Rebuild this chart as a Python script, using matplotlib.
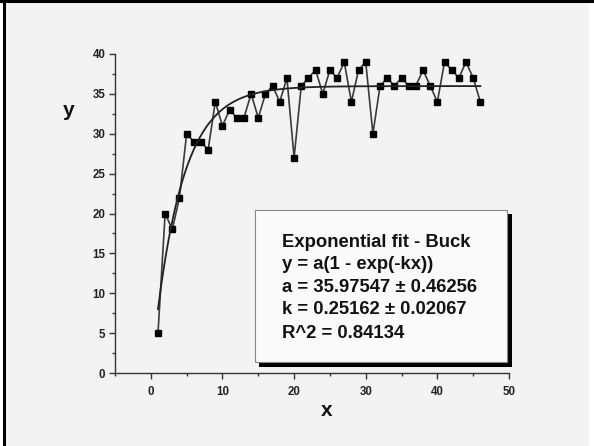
import numpy as np
import matplotlib
matplotlib.use("Agg")
import matplotlib.pyplot as plt
from matplotlib.patches import Rectangle
from matplotlib.lines import Line2D
from matplotlib.ticker import MultipleLocator

plt.rcParams['font.family'] = ['Liberation Sans', 'DejaVu Sans']
plt.rcParams['font.weight'] = 'bold'

x_values = list(range(1, 47))
y_values = [5, 20, 18, 22, 30, 29, 29, 28, 34, 31,
            33, 32, 32, 35, 32, 35, 36, 34, 37, 27,
            36, 37, 38, 35, 38, 37, 39, 34, 38, 39,
            30, 36, 37, 36, 37, 36, 36, 38, 36, 34,
            39, 38, 37, 39, 37, 34]
fit_a = 35.97547
fit_a_err = 0.46256
fit_k = 0.25162
fit_k_err = 0.02067
fit_r2 = 0.84134
x_ticks = [0, 10, 20, 30, 40, 50]
y_ticks = [0, 5, 10, 15, 20, 25, 30, 35, 40]

W, H = 594, 446
fig = plt.figure(figsize=(W / 100, H / 100), dpi=100)
fig.patch.set_facecolor('#f3f3f3')

def fx(px):
    return px / W

def fy(py):
    return 1 - py / H

# outer frame lines (top and left)
fig.add_artist(Rectangle((0, fy(H)), fx(3), 1, transform=fig.transFigure,
                         facecolor='white', edgecolor='none', zorder=0))
fig.add_artist(Rectangle((fx(589), fy(H)), fx(5), 1, transform=fig.transFigure,
                         facecolor='white', edgecolor='none', zorder=0))
fig.add_artist(Line2D([fx(4), fx(4)], [0, 1], transform=fig.transFigure,
                      color='black', lw=2.2))
fig.add_artist(Line2D([0, 1], [fy(1.2), fy(1.2)], transform=fig.transFigure,
                      color='black', lw=2.2))

ax = fig.add_axes([fx(115), fy(373), fx(509) - fx(115), fy(54) - fy(373)])
ax.set_facecolor('none')
ax.set_xlim(-5, 50)
ax.set_ylim(0, 40)

ax.plot(x_values, y_values, color='#3a3a3a', lw=1.2, marker='s',
        markersize=4.6, markerfacecolor='black', markeredgecolor='black', zorder=3)
xf = np.linspace(min(x_values), max(x_values), 300)
ax.plot(xf, fit_a * (1 - np.exp(-fit_k * xf)), color='#222222', lw=1.3, zorder=4)

for s in ['top', 'right']:
    ax.spines[s].set_visible(False)
for s in ['left', 'bottom']:
    ax.spines[s].set_color('#333333')
    ax.spines[s].set_linewidth(1.0)

ax.set_xticks(x_ticks)
ax.set_yticks(y_ticks)
ax.xaxis.set_minor_locator(MultipleLocator(5))
ax.yaxis.set_minor_locator(MultipleLocator(2.5))
ax.tick_params(axis='both', which='major', length=4, width=1.0, color='#333333',
               labelsize=8.3, labelcolor='#222222')
ax.tick_params(axis='both', which='minor', length=2.5, width=1.0, color='#333333')
ax.tick_params(axis='x', which='major', pad=5.5)
ax.tick_params(axis='y', which='major', pad=3)
for lab in ax.get_xticklabels() + ax.get_yticklabels():
    lab.set_fontweight('bold')

fig.text(fx(327), fy(410), 'x', ha='center', va='center', fontsize=15,
         fontweight='bold', color='#111111')
fig.text(fx(69), fy(110), 'y', ha='center', va='center', fontsize=15,
         fontweight='bold', color='#111111')

# fit result box with shadow
fig.add_artist(Rectangle((fx(259), fy(367)), fx(512) - fx(259), fy(214) - fy(367),
                         transform=fig.transFigure, facecolor='black',
                         edgecolor='none', zorder=5))
fig.add_artist(Rectangle((fx(255), fy(362)), fx(507) - fx(255), fy(210) - fy(362),
                         transform=fig.transFigure, facecolor='#fafafa',
                         edgecolor='#888888', lw=0.8, zorder=6))
lines = ['Exponential fit - Buck',
         'y = a(1 - exp(-kx))',
         f'a = {fit_a:.5f} \u00b1 {fit_a_err:.5f}',
         f'k = {fit_k:.5f} \u00b1 {fit_k_err:.5f}',
         f'R^2 = {fit_r2:.5f}']
baselines = [246.7, 269.3, 292.0, 314.5, 337.5]
for t, b in zip(lines, baselines):
    fig.text(fx(281.5), fy(b), t, ha='left', va='baseline', fontsize=13.3,
             fontweight='bold', color='#111111', zorder=7)

fig.savefig('out.png', dpi=100, facecolor=fig.get_facecolor())
